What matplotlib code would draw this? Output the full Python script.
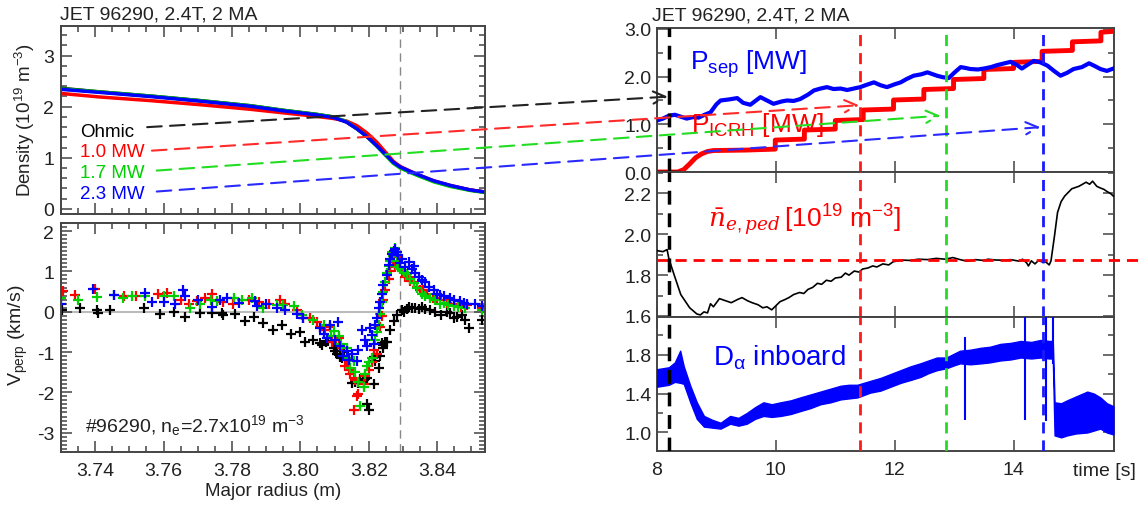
import matplotlib
matplotlib.use('Agg')
import matplotlib.pyplot as plt
from matplotlib.patches import ConnectionPatch
from matplotlib.ticker import MultipleLocator, FormatStrFormatter

plt.rcParams['font.family'] = ['Liberation Sans', 'DejaVu Sans']
plt.rcParams['mathtext.fontset'] = 'custom'
plt.rcParams['mathtext.rm'] = 'Liberation Sans'
plt.rcParams['mathtext.it'] = 'DejaVu Serif:italic'
plt.rcParams['axes.unicode_minus'] = False

RED = '#ff0000'
GREEN = '#00d000'
BLUE = '#0000ff'
SPINE = '#444444'

# ---------------- data: density profiles (left top) ----------------
radius_prof = [3.730, 3.7414, 3.756, 3.7706, 3.7853, 3.795, 3.8048, 3.8096, 3.8135,
               3.8165, 3.8194, 3.8223, 3.8253, 3.8272, 3.8292, 3.834, 3.839, 3.8438,
               3.8497, 3.854]
dens_ohmic = [2.36, 2.29, 2.21, 2.12, 2.02, 1.93, 1.85, 1.80, 1.70, 1.57, 1.42, 1.24,
              1.04, 0.91, 0.81, 0.67, 0.54, 0.45, 0.37, 0.33]
dens_1p0 = [2.26, 2.19, 2.12, 2.04, 1.95, 1.88, 1.81, 1.77, 1.72, 1.63, 1.49, 1.31,
            1.08, 0.93, 0.83, 0.68, 0.55, 0.46, 0.37, 0.33]
dens_1p7 = [2.35, 2.29, 2.21, 2.12, 2.02, 1.93, 1.85, 1.80, 1.71, 1.57, 1.42, 1.23,
            1.02, 0.89, 0.80, 0.66, 0.53, 0.44, 0.36, 0.32]
dens_2p3 = [2.34, 2.28, 2.20, 2.11, 2.01, 1.92, 1.84, 1.79, 1.70, 1.57, 1.42, 1.24,
            1.04, 0.91, 0.82, 0.68, 0.55, 0.46, 0.37, 0.33]

case_labels = ['Ohmic', '1.0 MW', '1.7 MW', '2.3 MW']
case_colors = ['black', RED, GREEN, BLUE]
label_heights = [1.43, 1.03, 0.62, 0.215]

# ---------------- data: V_perp (left bottom), (R, V) pairs ----------------
vperp_ohmic = [(3.7302, 0.04), (3.7356, 0.08), (3.7405, 0.04), (3.7408, -0.04),
               (3.7444, 0.04), (3.7542, 0.10), (3.7589, -0.06), (3.7630, 0.0),
               (3.7663, -0.12), (3.7707, -0.04), (3.7741, -0.04), (3.7770, -0.02),
               (3.7775, -0.08), (3.7810, -0.06), (3.7839, -0.23), (3.7865, -0.12),
               (3.7892, -0.29), (3.7920, -0.45), (3.7946, -0.33), (3.7972, -0.56),
               (3.7998, -0.51), (3.8014, -0.74), (3.8038, -0.70), (3.8058, -0.78),
               (3.8063, -0.82), (3.8075, -0.74), (3.8082, -0.72), (3.8097, -0.90),
               (3.8102, -0.98), (3.8107, -1.06), (3.8117, -1.12), (3.8122, -1.16),
               (3.8127, -1.00), (3.8141, -1.19), (3.8150, -1.76), (3.8160, -1.74),
               (3.8168, -1.77), (3.8175, -1.68), (3.8185, -1.70), (3.8190, -1.66),
               (3.8194, -1.64), (3.8195, -2.29), (3.8200, -2.45), (3.8214, -1.80),
               (3.8214, -1.12), (3.8219, -1.22), (3.8229, -1.39), (3.8234, -1.10),
               (3.8238, -0.78), (3.8243, -0.82), (3.8243, -0.90), (3.8248, -0.76),
               (3.8253, -0.74), (3.8263, -0.45), (3.8273, -0.23), (3.8282, -0.08),
               (3.8297, 0.04), (3.8302, 0.0), (3.8312, 0.06), (3.8317, 0.12),
               (3.8326, 0.10), (3.8336, 0.08), (3.8346, 0.06), (3.8355, 0.12),
               (3.8365, 0.06), (3.8380, 0.04), (3.8395, 0.0), (3.8410, -0.08),
               (3.8429, 0.0), (3.8438, -0.04), (3.8448, -0.16), (3.8458, -0.12),
               (3.8473, -0.08), (3.8482, -0.20), (3.8492, -0.41), (3.8530, -0.20)]
vperp_1p0 = [(3.7306, 0.51), (3.7340, 0.41), (3.7400, 0.57), (3.7483, 0.38),
             (3.7520, 0.40), (3.7585, 0.45), (3.7610, 0.47), (3.7650, 0.30),
             (3.7673, 0.20), (3.7697, 0.26), (3.7720, 0.35), (3.7741, 0.45),
             (3.7775, 0.25), (3.7804, 0.20), (3.7850, 0.28), (3.7880, 0.24),
             (3.7907, 0.20), (3.7941, 0.29), (3.7956, 0.20), (3.7990, 0.05),
             (3.8009, -0.16), (3.8029, -0.16), (3.8048, -0.25), (3.8058, -0.37),
             (3.8073, -0.45), (3.8087, -0.37), (3.8092, -0.74), (3.8112, -0.66),
             (3.8116, -0.82), (3.8121, -0.90), (3.8131, -1.35), (3.8136, -1.19),
             (3.8141, -1.45), (3.8146, -1.55), (3.8156, -1.64), (3.8156, -2.45),
             (3.8161, -1.70), (3.8165, -2.10), (3.8170, -2.04), (3.8185, -1.80),
             (3.8190, -1.60), (3.8200, -1.45), (3.8209, -1.25), (3.8214, -0.95),
             (3.8224, -1.06), (3.8233, -0.37), (3.8238, -0.10), (3.8243, 0.29),
             (3.8248, 0.55), (3.8258, 0.82), (3.8263, 1.00), (3.8272, 1.23),
             (3.8277, 1.10), (3.8287, 1.35), (3.8297, 1.00), (3.8307, 0.86),
             (3.8317, 0.85), (3.8321, 0.75), (3.8331, 0.74), (3.8341, 0.62),
             (3.8350, 0.55), (3.8360, 0.53), (3.8370, 0.45), (3.8389, 0.33),
             (3.8400, 0.33), (3.8419, 0.29), (3.8430, 0.22), (3.8448, 0.20),
             (3.8470, 0.12), (3.8487, 0.16), (3.8530, 0.10)]
vperp_1p7 = [(3.7301, 0.33), (3.7350, 0.30), (3.7405, 0.37), (3.7454, 0.41),
             (3.7480, 0.33), (3.7507, 0.38), (3.7546, 0.39), (3.7600, 0.38),
             (3.7630, 0.39), (3.7678, 0.08), (3.7707, 0.20), (3.7740, 0.30),
             (3.7756, 0.26), (3.7805, 0.33), (3.7830, 0.28), (3.7858, 0.33),
             (3.7892, 0.08), (3.7931, 0.16), (3.7950, 0.17), (3.7980, 0.15),
             (3.8004, -0.07), (3.8038, -0.20), (3.8068, -0.33), (3.8090, -0.60),
             (3.8097, -0.49), (3.8112, -0.61), (3.8120, -0.80), (3.8136, -0.90),
             (3.8141, -1.15), (3.8146, -1.39), (3.8156, -1.23), (3.8161, -1.50),
             (3.8170, -1.75), (3.8175, -2.33), (3.8185, -1.88), (3.8190, -1.55),
             (3.8195, -1.35), (3.8200, -1.25), (3.8209, -1.14), (3.8219, -0.70),
             (3.8224, -0.50), (3.8229, -0.33), (3.8233, -0.05), (3.8238, 0.25),
             (3.8243, 0.50), (3.8248, 0.74), (3.8253, 0.95), (3.8258, 1.14),
             (3.8263, 1.25), (3.8267, 1.47), (3.8272, 1.38), (3.8277, 1.57),
             (3.8282, 1.25), (3.8287, 1.12), (3.8292, 1.06), (3.8302, 0.98),
             (3.8311, 0.94), (3.8321, 0.82), (3.8331, 0.70), (3.8341, 0.60),
             (3.8355, 0.45), (3.8365, 0.40), (3.8380, 0.33), (3.8395, 0.28),
             (3.8409, 0.20), (3.8420, 0.22), (3.8433, 0.16), (3.8450, 0.14),
             (3.8462, 0.12), (3.8482, 0.08), (3.8530, 0.04)]
vperp_2p3 = [(3.7301, 0.20), (3.7395, 0.56), (3.7454, 0.41), (3.7546, 0.47),
             (3.7566, 0.23), (3.7600, 0.25), (3.7634, 0.20), (3.7657, 0.53),
             (3.7662, 0.38), (3.7700, 0.30), (3.7741, 0.12), (3.7765, 0.29),
             (3.7785, 0.33), (3.7820, 0.22), (3.7868, 0.26), (3.7873, 0.15),
             (3.7900, 0.18), (3.7931, 0.10), (3.7956, 0.04), (3.7990, -0.05),
             (3.8009, -0.16), (3.8058, -0.41), (3.8068, -0.55), (3.8078, -0.65),
             (3.8087, -0.33), (3.8100, -0.70), (3.8109, -0.25), (3.8116, -0.86),
             (3.8126, -1.10), (3.8136, -0.98), (3.8141, -1.20), (3.8150, -1.06),
             (3.8165, -1.23), (3.8170, -0.95), (3.8180, -0.45), (3.8190, -0.70),
             (3.8195, -0.86), (3.8204, -0.40), (3.8209, -0.57), (3.8214, -0.80),
             (3.8219, -0.33), (3.8224, -0.15), (3.8229, 0.08), (3.8233, 0.25),
             (3.8238, 0.45), (3.8243, 0.65), (3.8253, 0.90), (3.8258, 1.15),
             (3.8263, 1.31), (3.8268, 1.42), (3.8273, 1.51), (3.8277, 1.55),
             (3.8282, 1.47), (3.8287, 1.40), (3.8292, 1.20), (3.8297, 1.31),
             (3.8307, 1.12), (3.8317, 1.23), (3.8326, 1.05), (3.8331, 1.14),
             (3.8336, 0.95), (3.8346, 0.86), (3.8356, 0.78), (3.8365, 0.74),
             (3.8375, 0.62), (3.8390, 0.53), (3.8400, 0.45), (3.8409, 0.41),
             (3.8420, 0.38), (3.8438, 0.33), (3.8450, 0.30), (3.8467, 0.26),
             (3.8478, 0.22), (3.8487, 0.20), (3.8510, 0.18), (3.8530, 0.15)]

# ---------------- data: time traces (right) ----------------
psep_t = [8.0, 8.1, 8.2, 8.3, 8.4, 8.5, 8.6, 8.7, 8.8, 8.9, 9.0, 9.07, 9.2, 9.35, 9.45,
          9.57, 9.74, 9.85, 9.96, 10.1, 10.19, 10.3, 10.41, 10.55, 10.64, 10.75, 10.86,
          10.97, 11.09, 11.2, 11.31, 11.42, 11.53, 11.65, 11.76, 11.87, 12.0, 12.1, 12.2,
          12.32, 12.45, 12.55, 12.71, 12.8, 12.91, 13.0, 13.11, 13.2, 13.27, 13.4, 13.5,
          13.62, 13.72, 13.85, 13.95, 14.05, 14.14, 14.25, 14.34, 14.45, 14.57, 14.68,
          14.79, 14.9, 15.01, 15.15, 15.27, 15.37, 15.46, 15.57, 15.68]
psep_p = [1.08, 1.12, 1.18, 1.20, 1.16, 1.12, 1.15, 1.14, 1.20, 1.25, 1.42, 1.50, 1.52,
          1.55, 1.45, 1.41, 1.57, 1.50, 1.43, 1.48, 1.50, 1.49, 1.53, 1.63, 1.71, 1.75,
          1.78, 1.74, 1.75, 1.72, 1.75, 1.78, 1.83, 1.88, 1.82, 1.78, 1.84, 1.88, 1.95,
          2.02, 2.05, 2.09, 2.02, 1.99, 1.97, 2.08, 2.20, 2.18, 2.16, 2.15, 2.17, 2.20,
          2.24, 2.28, 2.31, 2.25, 2.17, 2.26, 2.33, 2.30, 2.23, 2.12, 2.02, 2.08, 2.16,
          2.20, 2.28, 2.22, 2.16, 2.12, 2.17]

icrh_t = [8.0, 8.35, 8.45, 8.55, 8.65, 8.75, 8.85, 8.95, 9.5, 9.99, 9.99, 10.48, 10.48,
          11.0, 11.0, 11.47, 11.47, 11.98, 11.98, 12.49, 12.49, 12.99, 12.99, 13.5, 13.5,
          14.0, 14.0, 14.48, 14.48, 14.99, 14.99, 15.47, 15.47, 15.68]
icrh_p = [0.0, 0.0, 0.05, 0.17, 0.30, 0.38, 0.43, 0.45, 0.46, 0.48, 0.67, 0.69, 0.88,
          0.90, 1.08, 1.10, 1.30, 1.32, 1.51, 1.53, 1.73, 1.75, 1.94, 1.96, 2.15, 2.17,
          2.30, 2.32, 2.53, 2.55, 2.73, 2.75, 2.93, 2.95]

ne_t = [8.0, 8.1, 8.17, 8.2, 8.29, 8.4, 8.55, 8.67, 8.73, 8.79, 8.85, 8.9, 8.95, 9.05,
        9.15, 9.25, 9.35, 9.43, 9.52, 9.6, 9.7, 9.78, 9.85, 9.93, 10.0, 10.07, 10.15,
        10.22, 10.3, 10.4, 10.47, 10.54, 10.62, 10.7, 10.77, 10.85, 10.93, 11.0, 11.1,
        11.17, 11.23, 11.32, 11.4, 11.46, 11.55, 11.63, 11.7, 11.8, 11.9, 11.97, 12.05,
        12.11, 12.25, 12.4, 12.55, 12.7, 12.85, 12.98, 13.1, 13.22, 13.35, 13.5, 13.57,
        13.7, 13.85, 13.95, 14.1, 14.15, 14.22, 14.25, 14.3, 14.36, 14.42, 14.5, 14.54,
        14.6, 14.63, 14.69, 14.74, 14.8, 14.86, 14.98, 15.1, 15.22, 15.28, 15.33, 15.4,
        15.45, 15.52, 15.57, 15.63, 15.68]
ne_ped = [1.92, 1.915, 1.925, 1.88, 1.80, 1.705, 1.64, 1.61, 1.605, 1.62, 1.615, 1.66,
          1.645, 1.685, 1.675, 1.665, 1.68, 1.69, 1.675, 1.665, 1.655, 1.64, 1.645, 1.63,
          1.65, 1.67, 1.68, 1.69, 1.705, 1.715, 1.71, 1.73, 1.74, 1.76, 1.755, 1.775,
          1.77, 1.786, 1.79, 1.81, 1.80, 1.82, 1.815, 1.83, 1.835, 1.845, 1.84, 1.855,
          1.85, 1.865, 1.87, 1.874, 1.872, 1.878, 1.876, 1.882, 1.878, 1.886, 1.876,
          1.868, 1.876, 1.872, 1.878, 1.874, 1.873, 1.876, 1.868, 1.878, 1.86, 1.845,
          1.87, 1.855, 1.872, 1.862, 1.865, 1.85, 1.87, 1.995, 2.107, 2.16, 2.187, 2.223,
          2.235, 2.255, 2.245, 2.26, 2.235, 2.228, 2.22, 2.21, 2.20, 2.187]
ne_ref = 1.872

dalpha_t = [8.0, 8.2, 8.3, 8.39, 8.45, 8.56, 8.67, 8.79, 8.93, 9.07, 9.23, 9.37, 9.51,
            9.65, 9.79, 9.93, 10.08, 10.25, 10.41, 10.58, 10.75, 10.92, 11.09, 11.23,
            11.37, 11.59, 11.76, 11.93, 12.1, 12.27, 12.43, 12.57, 12.71, 12.87, 13.0,
            13.1, 13.27, 13.45, 13.6, 13.78, 13.95, 14.12, 14.3, 14.45, 14.6, 14.66,
            14.69, 14.8, 14.9, 15.05, 15.24, 15.35, 15.46, 15.57, 15.68]
dalpha_lo = [1.47, 1.49, 1.52, 1.51, 1.50, 1.31, 1.14, 1.06, 1.05, 1.04, 1.09, 1.07,
             1.09, 1.14, 1.17, 1.16, 1.17, 1.19, 1.22, 1.25, 1.29, 1.31, 1.34, 1.35,
             1.36, 1.41, 1.43, 1.47, 1.51, 1.54, 1.57, 1.61, 1.64, 1.66, 1.69, 1.71,
             1.70, 1.71, 1.72, 1.74, 1.75, 1.77, 1.76, 1.77, 1.76, 1.76, 0.97, 0.95,
             0.97, 0.99, 1.00, 1.02, 1.04, 1.00, 0.98]
dalpha_hi = [1.65, 1.67, 1.72, 1.84, 1.68, 1.48, 1.31, 1.17, 1.13, 1.10, 1.17, 1.15,
             1.20, 1.26, 1.31, 1.29, 1.31, 1.33, 1.36, 1.39, 1.42, 1.45, 1.48, 1.49,
             1.49, 1.53, 1.56, 1.60, 1.64, 1.68, 1.71, 1.74, 1.77, 1.77, 1.81, 1.84,
             1.85, 1.87, 1.88, 1.91, 1.92, 1.94, 1.93, 1.95, 1.94, 1.94, 1.31, 1.30,
             1.33, 1.37, 1.42, 1.40, 1.36, 1.30, 1.27]
spike_t = [13.19, 14.20, 14.55, 14.67]
spike_lo = [1.13, 1.13, 1.12, 1.70]
spike_hi = [1.98, 2.30, 2.30, 2.30]

# times of the profiles and arrow anchors
case_times = [8.21, 11.42, 12.87, 14.49]
arrow_start_r = [3.7552, 3.7566, 3.7580, 3.7580]
arrow_start_n = [1.60, 1.14, 0.75, 0.34]
arrow_end_p = [1.58, 1.40, 1.18, 0.94]
arrow_end_t = [8.18, 11.40, 12.77, 14.45]

W, H = 1145, 506
fig = plt.figure(figsize=(W / 100, H / 100), dpi=100)


def box(x0, y0, x1, y1):
    return [x0 / W, 1 - y1 / H, (x1 - x0) / W, (y1 - y0) / H]


ax_dens = fig.add_axes(box(61, 27, 485, 215))
ax_v = fig.add_axes(box(61, 224, 485, 453))
ax_pow = fig.add_axes(box(657, 29, 1114, 173))
ax_ne = fig.add_axes(box(657, 173, 1114, 318))
ax_da = fig.add_axes(box(657, 318, 1114, 452))

for ax in [ax_dens, ax_v, ax_pow, ax_ne, ax_da]:
    for s in ax.spines.values():
        s.set_color(SPINE)
        s.set_linewidth(1.4)
    ax.tick_params(which='both', direction='in', top=True, right=True,
                   colors=SPINE, labelcolor='#222222', labelsize=14, width=1.1)
    ax.tick_params(which='major', length=8)
    ax.tick_params(which='minor', length=4)

# ---- left top: density ----
for dens, col in zip([dens_ohmic, dens_1p0, dens_1p7, dens_2p3], case_colors):
    ax_dens.plot(radius_prof, dens, color=col, lw=2.5)
ax_dens.axvline(3.829, color='#888888', lw=1, ls=(0, (6, 4)), zorder=0)
ax_dens.set_xlim(3.73, 3.854)
ax_dens.set_ylim(-0.1, 3.58)
ax_dens.xaxis.set_major_locator(MultipleLocator(0.02))
ax_dens.xaxis.set_minor_locator(MultipleLocator(0.005))
ax_dens.yaxis.set_major_locator(MultipleLocator(1))
ax_dens.yaxis.set_minor_locator(MultipleLocator(0.2))
ax_dens.tick_params(labelbottom=False, pad=5)
for lab, col, yy in zip(case_labels, case_colors, label_heights):
    ax_dens.text(3.7356, yy, lab, color=col, fontsize=13.5, va='baseline')

# ---- left bottom: V_perp ----
ax_v.axhline(0, color='#bbbbbb', lw=1.5, zorder=0)
ax_v.axvline(3.829, color='#888888', lw=1, ls=(0, (6, 4)), zorder=0)
for pts, col in zip([vperp_ohmic, vperp_1p0, vperp_1p7, vperp_2p3], case_colors):
    r, v = zip(*pts)
    ax_v.plot(r, v, ls='none', marker='+', ms=7.5, mew=1.6, color=col)
ax_v.set_xlim(3.73, 3.854)
ax_v.set_ylim(-3.48, 2.2)
ax_v.xaxis.set_major_locator(MultipleLocator(0.02))
ax_v.xaxis.set_minor_locator(MultipleLocator(0.005))
ax_v.xaxis.set_major_formatter(FormatStrFormatter('%.2f'))
ax_v.yaxis.set_major_locator(MultipleLocator(1))
ax_v.yaxis.set_minor_locator(MultipleLocator(0.1))
ax_v.tick_params(axis='x', pad=7)
ax_v.tick_params(axis='y', pad=5)
ax_v.text(3.737, -2.97, r'#96290, n$_\mathrm{e}$=2.7x10$^{19}$ m$^{-3}$',
          fontsize=14, va='baseline', color='#222222')

fig.text(25 / W, 1 - 120 / H, r'Density (10$^{19}$ m$^{-3}$)', rotation=90,
         ha='center', va='center', fontsize=13.5, color='#222222')
fig.text(18 / W, 1 - 335 / H, r'V$_\mathrm{perp}$ (km/s)', rotation=90,
         ha='center', va='center', fontsize=14, color='#222222')
fig.text(273 / W, 1 - 492 / H, 'Major radius (m)', ha='center', va='center',
         fontsize=13.5, color='#222222')
fig.text(60 / W, 1 - 20 / H, 'JET 96290, 2.4T, 2 MA', fontsize=14, va='baseline',
         color='#222222')
fig.text(652 / W, 1 - 20.5 / H, 'JET 96290, 2.4T, 2 MA', fontsize=14, va='baseline',
         color='#222222')

# ---- right panels ----
for ax in [ax_pow, ax_ne, ax_da]:
    ax.set_xlim(8, 15.69)
    ax.set_xticks([8, 10, 12, 14])
    ax.tick_params(axis='y', pad=4)
    ax.yaxis.set_major_formatter(FormatStrFormatter('%.1f'))
    for tc, col in zip(case_times, ['black', '#ff1a1a', '#22dd22', '#1a1aff']):
        ax.axvline(tc, color=col, lw=2.5 if col == 'black' else 2,
                   ls=(0, (4, 2.5)), zorder=6)

ax_pow.plot(icrh_t, icrh_p, color=RED, lw=3.5, zorder=3)
ax_pow.plot(icrh_t[:2], icrh_p[:2], color='#a00000', lw=3.5, zorder=3)
ax_pow.plot(psep_t, psep_p, color=BLUE, lw=3, zorder=4)
ax_pow.set_ylim(0, 3.02)
ax_pow.yaxis.set_major_locator(MultipleLocator(1))
ax_pow.yaxis.set_minor_locator(MultipleLocator(0.5))
ax_pow.tick_params(labelbottom=False)
ax_pow.text(8.56, 2.16, r'P$_\mathrm{sep}$ [MW]', color=BLUE, fontsize=19,
            va='baseline', zorder=7)
ax_pow.text(8.57, 0.87, r'P$_\mathrm{ICRH}$ [MW]', color=RED, fontsize=19,
            va='baseline', zorder=7)

ax_ne.plot(ne_t, ne_ped, color='black', lw=1.2, zorder=3)
ax_ne.axhline(ne_ref, xmin=0, xmax=1.07, color=RED, lw=2, ls=(0, (4, 2.5)),
              clip_on=False, zorder=5)
ax_ne.set_ylim(1.595, 2.305)
ax_ne.yaxis.set_major_locator(MultipleLocator(0.2))
ax_ne.yaxis.set_minor_locator(MultipleLocator(0.1))
ax_ne.tick_params(labelbottom=False)
ax_ne.text(8.86, 2.04, r'$\bar{n}_{e,ped}\,$[10$^{19}$ m$^{-3}$]', color=RED,
           fontsize=19, va='baseline')

ax_da.fill_between(dalpha_t, dalpha_lo, dalpha_hi, color=BLUE, lw=1, zorder=3)
ax_da.vlines(spike_t, spike_lo, spike_hi, color=BLUE, lw=1.5, zorder=3)
ax_da.set_ylim(0.81, 2.186)
ax_da.yaxis.set_major_locator(MultipleLocator(0.4))
ax_da.yaxis.set_minor_locator(MultipleLocator(0.2))
ax_da.yaxis.set_major_formatter(FormatStrFormatter('%.1f'))
ax_da.tick_params(axis='x', pad=7)
ax_da.set_yticks([1.0, 1.4, 1.8])
ax_da.text(8.94, 1.70, r'D$_\mathrm{α}$ inboard', color=BLUE, fontsize=20,
           va='baseline')
ax_da.text(15.53, -0.149, 'time [s]', transform=ax_da.get_xaxis_transform(),
           ha='center', va='center', fontsize=14, color='#222222')

# ---- dashed arrows linking profile labels to time points ----
arrow_colors = ['#222222', '#ff2a2a', '#22dd22', '#2a2aff']
for r0, n0, t1, p1, col in zip(arrow_start_r, arrow_start_n, arrow_end_t,
                               arrow_end_p, arrow_colors):
    con = ConnectionPatch(xyA=(r0, n0), coordsA=ax_dens.transData,
                          xyB=(t1, p1), coordsB=ax_pow.transData,
                          arrowstyle='->', ls=(0, (7, 4)), lw=1.5, color=col,
                          mutation_scale=22, shrinkA=0, shrinkB=0, zorder=10)
    fig.add_artist(con)

fig.savefig('out.png', dpi=100)
